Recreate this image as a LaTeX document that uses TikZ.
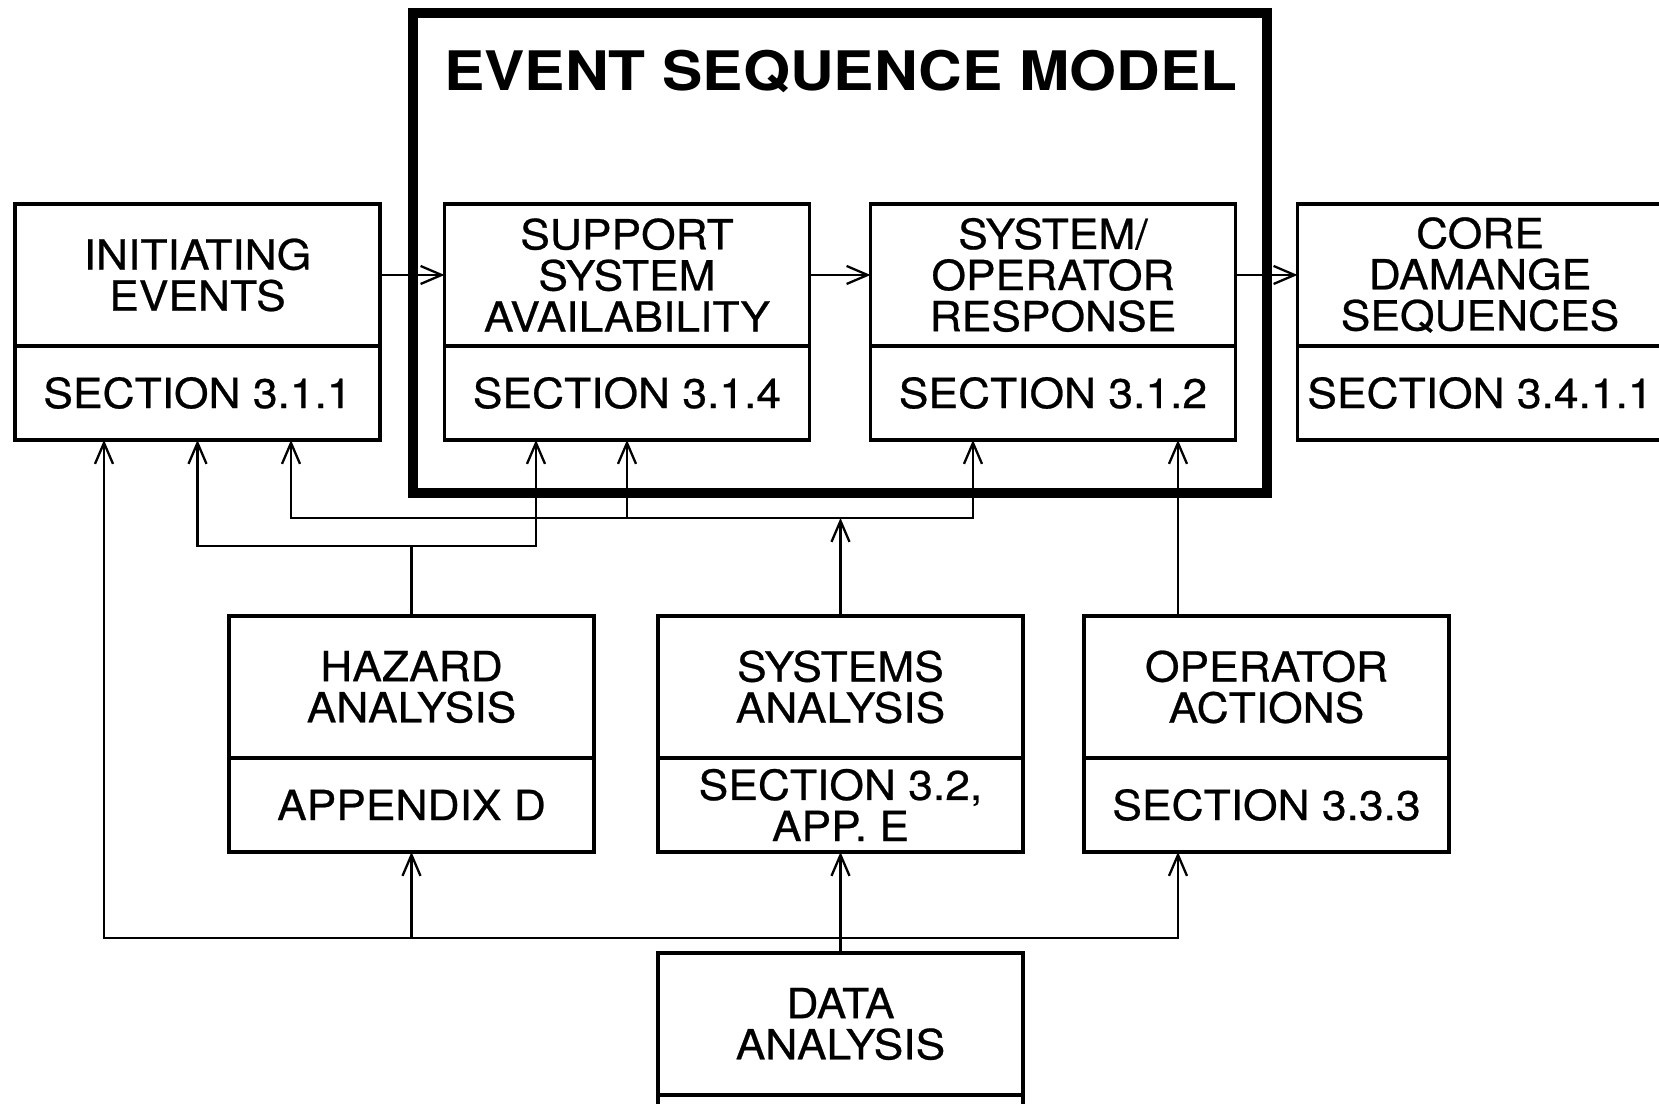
\documentclass[tikz,border=0pt]{standalone}
\usepackage{fontspec}
\setmainfont{TeX Gyre Heros}[FakeStretch=1.07, FakeBold=0.6]
\newfontfamily\titlefont{TeX Gyre Heros}[FakeStretch=1.11]
\usetikzlibrary{arrows.meta, positioning}

\begin{document}
\begin{tikzpicture}[
    box/.style={draw, line width=0.95pt, minimum width=3.65cm, align=center,
        inner sep=0pt, outer sep=0pt, font=\fontsize{11.8}{11.7}\selectfont},
    head/.style={box, minimum height=1.42cm},
    foot/.style={box, minimum height=0.94cm},
    link/.style={line width=0.65pt},
    feed/.style={link, -{Straight Barb[length=2.1mm, width=1.8mm]}}
]
\useasboundingbox (0, 0) rectangle (16.59, 11.04);

\draw[line width=2.85pt]
    (4.13, 6.11) rectangle (12.67, 10.91);
\node (esm) at (8.41, 10.32)
    {\titlefont\fontsize{15.5}{18}\selectfont\bfseries EVENT SEQUENCE MODEL};

\node[head] (init) at (1.975, 8.29) {INITIATING\\EVENTS};
\node[foot, below=0pt of init] (initsec) {SECTION 3.1.1};
\node[head] (supp) at (6.27, 8.29) {SUPPORT\\SYSTEM\\AVAILABILITY};
\node[foot, below=0pt of supp] (suppsec) {SECTION 3.1.4};
\node[head] (opres) at (10.53, 8.29) {SYSTEM/\\OPERATOR\\RESPONSE};
\node[foot, below=0pt of opres] (opressec) {SECTION 3.1.2};
\node[head] (core) at (14.80, 8.29) {CORE\\DAMANGE\\SEQUENCES};
\node[foot, below=0pt of core] (coresec) {SECTION 3.4.1.1};

\node[head] (haz) at (4.115, 4.17) {HAZARD\\ANALYSIS};
\node[foot, below=0pt of haz] (hazsec) {APPENDIX D};
\node[head] (sys) at (8.405, 4.17) {SYSTEMS\\ANALYSIS};
\node[foot, below=0pt of sys] (syssec) {SECTION 3.2,\\APP. E};
\node[head] (opact) at (12.665, 4.17) {OPERATOR\\ACTIONS};
\node[foot, below=0pt of opact] (opactsec) {SECTION 3.3.3};

\node[head] (data) at (8.405, 0.80) {DATA\\ANALYSIS};
\node[foot, below=0pt of data] (datasec) {};

\draw[feed]
    (init.east) -- (supp.west);
\draw[feed]
    (supp.east) -- (opres.west);
\draw[feed]
    (opres.east) -- (core.west);

\coordinate (hazbus) at ([yshift=0.70cm]haz.north);
\draw[link]
    (haz.north) -- (hazbus);
\draw[feed]
    (hazbus) -| (initsec.south);
\draw[feed]
    (hazbus) -| ([xshift=-0.91cm]suppsec.south);

\coordinate (sysbus) at ([yshift=0.98cm]sys.north);
\draw[feed]
    (sys.north) -- (sysbus);
\draw[feed]
    (sysbus) -| ([xshift=0.935cm]initsec.south);
\draw[feed]
    (sysbus) -| ([xshift=-0.80cm]opressec.south);
\draw[feed]
    (sysbus -| suppsec.south) -- (suppsec.south);

\coordinate (opbus) at ([xshift=-0.885cm]opact.north);
\draw[feed]
    (opbus) -- (opbus |- opressec.south);

\coordinate (databus) at ([yshift=0.15cm]data.north);
\draw[feed]
    (data.north) -- (syssec.south);
\draw[feed]
    (databus) -| ([xshift=-0.935cm]initsec.south);
\draw[feed]
    (databus) -| ([xshift=-0.885cm]opactsec.south);
\draw[feed]
    (databus -| hazsec.south) -- (hazsec.south);
\end{tikzpicture}
\end{document}
